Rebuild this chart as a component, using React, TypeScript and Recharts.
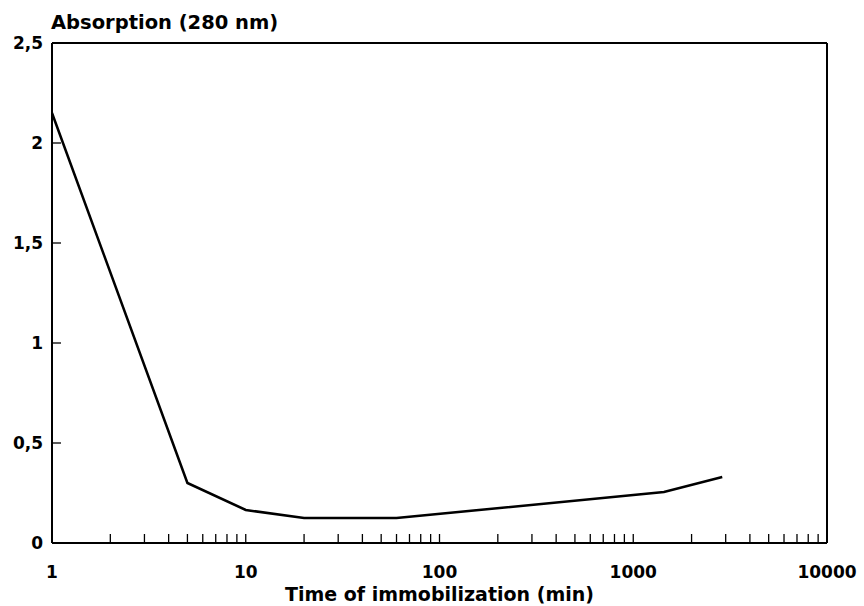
import React from "react";
import { LineChart, Line, XAxis, YAxis, ReferenceLine } from "recharts";

const timesMin = [1, 5, 10, 20, 60, 1440, 2880];
const absorption = [2.15, 0.3, 0.165, 0.125, 0.125, 0.255, 0.33];

const xTicks = [
  1, 2, 3, 4, 5, 6, 7, 8, 9,
  10, 20, 30, 40, 50, 60, 70, 80, 90,
  100, 200, 300, 400, 500, 600, 700, 800, 900,
  1000, 2000, 3000, 4000, 5000, 6000, 7000, 8000, 9000,
  10000,
];
const xLabelled = [1, 10, 100, 1000, 10000];
const yTicks = [0, 0.5, 1, 1.5, 2, 2.5];
const yTickLabels = ["0", "0,5", "1", "1,5", "2", "2,5"];

const data = timesMin.map((t, i) => ({ t, a: absorption[i] }));

const FONT = "'DejaVu Sans', Verdana, sans-serif";
const TICK_LEN = 9;

const XTick = (props: any) => {
  const { x, y, payload } = props;
  const v = payload.value;
  const showLine = v !== 1 && v !== 10000;
  return (
    <g>
      {showLine && (
        <line x1={x} x2={x} y1={y} y2={y - TICK_LEN} stroke="#000" strokeWidth={1.3} />
      )}
      {xLabelled.includes(v) && (
        <text
          x={x}
          y={y + 35}
          textAnchor="middle"
          fontFamily={FONT}
          fontWeight="bold"
          fontSize={17}
          fill="#000"
        >
          {String(v)}
        </text>
      )}
    </g>
  );
};

const YTick = (props: any) => {
  const { x, y, payload } = props;
  const v = payload.value;
  const idx = yTicks.indexOf(v);
  const showLine = v !== 0 && v !== 2.5;
  return (
    <g>
      {showLine && (
        <line x1={x} x2={x + TICK_LEN} y1={y} y2={y} stroke="#000" strokeWidth={1.3} />
      )}
      <text
        x={x - 9}
        y={y + 6}
        textAnchor="end"
        fontFamily={FONT}
        fontWeight="bold"
        fontSize={17}
        fill="#000"
      >
        {idx >= 0 ? yTickLabels[idx] : String(v)}
      </text>
    </g>
  );
};

const YTitle = () => (
  <text
    x={51}
    y={29}
    textAnchor="start"
    fontFamily={FONT}
    fontWeight="bold"
    fontSize={19.5}
    fill="#000"
  >
    Absorption (280 nm)
  </text>
);

const XTitle = (props: any) => {
  const vb = props.viewBox || {};
  return (
    <text
      x={(vb.x ?? 0) + (vb.width ?? 0) / 2}
      y={(vb.y ?? 0) + 58}
      textAnchor="middle"
      fontFamily={FONT}
      fontWeight="bold"
      fontSize={19}
      fill="#000"
    >
      Time of immobilization (min)
    </text>
  );
};

export default function App() {
  return (
    <div style={{ position: "absolute", left: 0, top: 0, background: "#fff" }}>
      <LineChart
        width={864}
        height={606}
        data={data}
        margin={{ top: 43, right: 37, left: 0, bottom: 0 }}
      >
        <XAxis
          dataKey="t"
          type="number"
          scale="log"
          domain={[1, 10000]}
          allowDataOverflow
          ticks={xTicks}
          interval={0}
          height={63}
          tickSize={0}
          tickMargin={0}
          tick={<XTick />}
          axisLine={{ stroke: "#000", strokeWidth: 2 }}
          tickLine={false}
          label={<XTitle />}
        />
        <YAxis
          type="number"
          domain={[0, 2.5]}
          ticks={yTicks}
          interval={0}
          width={52}
          tickSize={0}
          tickMargin={0}
          tick={<YTick />}
          axisLine={{ stroke: "#000", strokeWidth: 2 }}
          tickLine={false}
          label={<YTitle />}
        />
        <ReferenceLine y={2.5} stroke="#000" strokeWidth={2} ifOverflow="visible" />
        <ReferenceLine x={10000} stroke="#000" strokeWidth={2} ifOverflow="visible" />
        <Line
          dataKey="a"
          type="linear"
          stroke="#000"
          strokeWidth={2.5}
          dot={false}
          isAnimationActive={false}
        />
      </LineChart>
    </div>
  );
}
